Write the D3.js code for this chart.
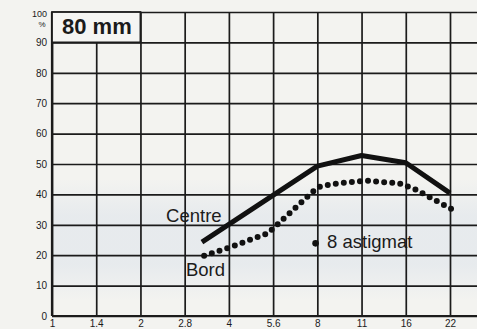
<!DOCTYPE html>
<html>
<head>
<meta charset="utf-8">
<script src="https://cdn.jsdelivr.net/npm/d3@7"></script>
<style>
  html, body { margin: 0; padding: 0; background: #f3f3f0; }
  svg { display: block; }
  text { font-family: "Liberation Sans", Arial, sans-serif; fill: #1b1b1b; }
</style>
</head>
<body>
<svg id="chart" width="477" height="329"></svg>
<script>
// Aperture positions are in stops from f/1 (index into stopLabels).
const stopLabels = ["1", "1.4", "2", "2.8", "4", "5.6", "8", "11", "16", "22"];
const yTicks = [0, 10, 20, 30, 40, 50, 60, 70, 80, 90, 100];

// Centre resolution (%)
const centreStops  = [3.39, 6.0, 7.0, 8.0, 9.0];
const centreValues = [24.3, 49.3, 52.8, 50.4, 40.4];

// Edge ("Bord") resolution (%)
const bordStops  = [3.44, 4.0, 4.88, 6.0, 6.15, 6.51, 7.12, 7.85, 8.21, 9.07];
const bordValues = [19.8, 22.5, 27.2, 42.3, 42.9, 43.7, 44.5, 43.6, 41.7, 34.9];

// Astigmatism marker at f/8
const astigStop = 5.96;
const astigValue = 23.9;

const W = 477, H = 329;
const svg = d3.select("#chart");
const ink = "#1b1b1b";

const x = d3.scaleLinear().domain([0, 9]).range([52, 450]);
const y = d3.scaleLinear().domain([0, 100]).range([316, 12]);

// faint bluish tint across the lower middle of the grid
const defs = svg.append("defs");
const grad = defs.append("linearGradient").attr("id", "tint")
  .attr("x1", 0).attr("y1", 0).attr("x2", 0).attr("y2", 1);
grad.append("stop").attr("offset", "0%").attr("stop-color", "#e2e7ec").attr("stop-opacity", 0);
grad.append("stop").attr("offset", "30%").attr("stop-color", "#e2e7ec").attr("stop-opacity", 0.7);
grad.append("stop").attr("offset", "70%").attr("stop-color", "#e2e7ec").attr("stop-opacity", 0.7);
grad.append("stop").attr("offset", "100%").attr("stop-color", "#e2e7ec").attr("stop-opacity", 0);
svg.append("rect")
  .attr("x", x(0)).attr("width", W - x(0))
  .attr("y", y(45)).attr("height", y(5) - y(45))
  .attr("fill", "url(#tint)");

// horizontal grid + y labels
const gy = svg.append("g")
  .attr("transform", `translate(${x(0)},0)`)
  .call(d3.axisLeft(y).tickValues(yTicks).tickSize(-(W - x(0))).tickSizeOuter(0).tickPadding(5));
gy.select(".domain").remove();
gy.selectAll(".tick line").attr("stroke", ink).attr("stroke-width", 1.7);
gy.selectAll(".tick text").attr("font-size", 10).attr("fill", ink);
gy.selectAll(".tick").filter(d => d === 100).select("text")
  .attr("font-size", 9).attr("dy", "0.45em");

// percent sign under the 100 label
svg.append("text")
  .attr("x", x(0) - 10).attr("y", y(100) + 15)
  .attr("text-anchor", "middle").attr("font-size", 8)
  .text("%");

// vertical grid + aperture labels
const gx = svg.append("g")
  .attr("transform", `translate(0,${y(0)})`)
  .call(d3.axisBottom(x).tickValues(d3.range(stopLabels.length))
    .tickFormat(i => stopLabels[i]).tickSize(-(y(0) - y(100))).tickSizeOuter(0).tickPadding(4));
gx.select(".domain").remove();
gx.selectAll(".tick line").attr("stroke", ink).attr("stroke-width", 1.7);
gx.selectAll(".tick text").attr("font-size", 10).attr("fill", ink);

// heavier frame on the left and bottom
svg.append("line").attr("x1", x(0)).attr("x2", x(0)).attr("y1", y(100)).attr("y2", y(0))
  .attr("stroke", ink).attr("stroke-width", 2.2);
svg.append("line").attr("x1", x(0)).attr("x2", W).attr("y1", y(0)).attr("y2", y(0))
  .attr("stroke", ink).attr("stroke-width", 2.2);

// title box
svg.append("rect")
  .attr("x", x(0)).attr("y", y(100))
  .attr("width", x(2) - x(0)).attr("height", y(90) - y(100))
  .attr("fill", "#f5f5f3").attr("stroke", ink).attr("stroke-width", 1.8);
svg.append("text")
  .attr("x", x(0) + 10).attr("y", y(100) + 22)
  .attr("font-size", 22).attr("font-weight", "bold")
  .text("80 mm");

const line = d3.line().x(d => x(d[0])).y(d => y(d[1]));

// centre: solid heavy line
svg.append("path")
  .datum(d3.zip(centreStops, centreValues))
  .attr("d", line)
  .attr("fill", "none").attr("stroke", "#111").attr("stroke-width", 5)
  .attr("stroke-linejoin", "round");

// edge: round dots along the curve
svg.append("path")
  .datum(d3.zip(bordStops, bordValues))
  .attr("d", line)
  .attr("fill", "none").attr("stroke", "#111").attr("stroke-width", 6)
  .attr("stroke-linecap", "round").attr("stroke-dasharray", "0 8.1");

// astigmatism marker
svg.append("circle")
  .attr("cx", x(astigStop)).attr("cy", y(astigValue)).attr("r", 3.3)
  .attr("fill", "#111");

// curve labels
svg.append("text").attr("x", x(2.58)).attr("y", y(30.9)).attr("font-size", 18.5).text("Centre");
svg.append("text").attr("x", x(3.03)).attr("y", y(13.2)).attr("font-size", 18.5).text("Bord");
svg.append("text").attr("x", x(6.22)).attr("y", y(22.4)).attr("font-size", 18.5).text("8 astigmat");
</script>
</body>
</html>
